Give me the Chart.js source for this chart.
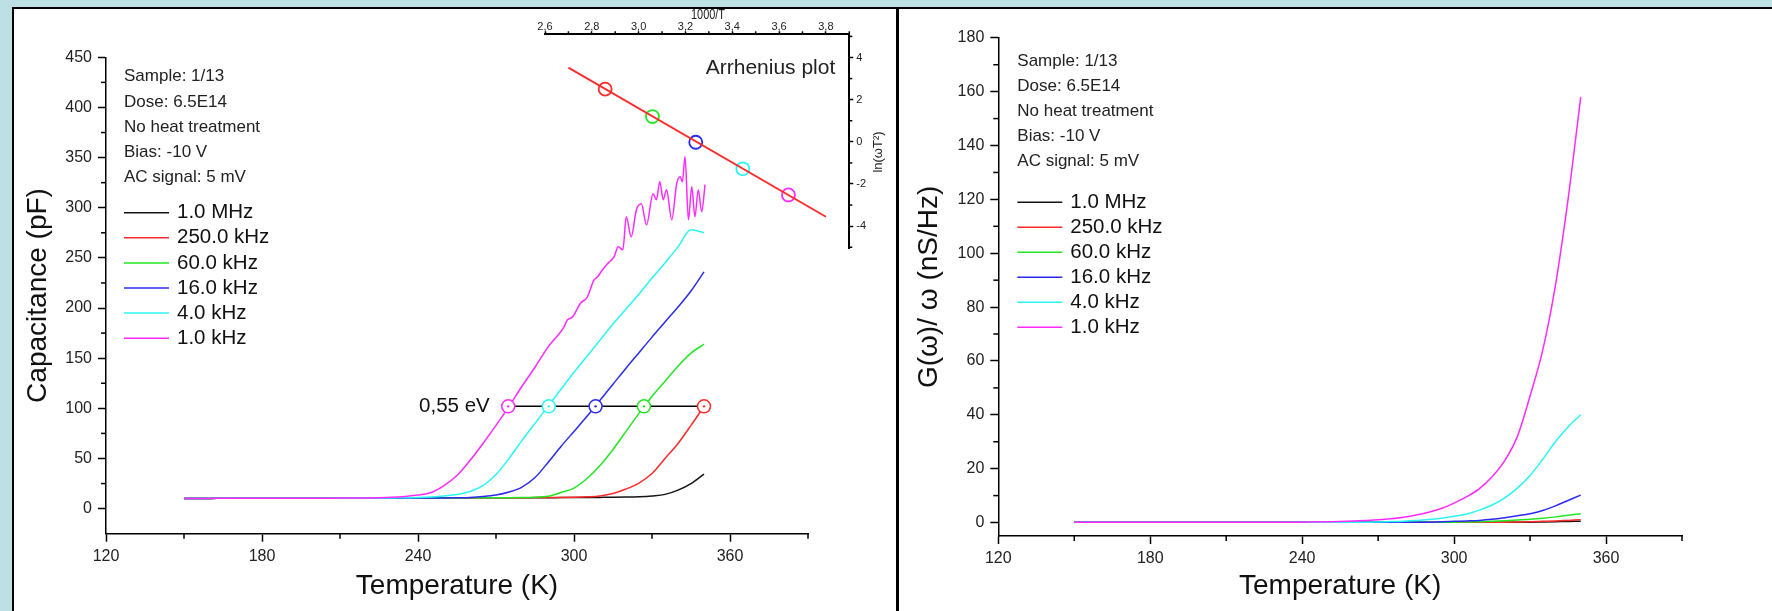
<!DOCTYPE html>
<html>
<head>
<meta charset="utf-8">
<title>Capacitance and conductance vs temperature</title>
<script src="https://cdn.jsdelivr.net/npm/chart.js@4.4.1/dist/chart.umd.min.js"></script>
<style>
  html, body { margin: 0; padding: 0; }
  body { width: 1772px; height: 611px; background: #bce0e4; position: relative; overflow: hidden; }
  #panel { position: absolute; left: 12px; top: 7px; width: 1760px; height: 604px; background: #fff;
           border-left: 2px solid #000; border-top: 2px solid #000; box-sizing: border-box; }
  #divider { position: absolute; left: 896px; top: 7px; width: 3px; height: 604px; background: #000; }
  canvas { position: absolute; }
  #capChart { left: 14px; top: 9px; }
  #condChart { left: 899px; top: 9px; }
  #arrChart { left: 505px; top: 9px; }
</style>
</head>
<body>
<div id="panel"></div>
<div id="divider"></div>
<canvas id="capChart" width="882" height="602"></canvas>
<canvas id="condChart" width="873" height="602"></canvas>
<canvas id="arrChart" width="390" height="261"></canvas>
<script>
// ---- data ----
const infoLines = ['Sample: 1/13', 'Dose: 6.5E14', 'No heat treatment', 'Bias: -10 V', 'AC signal: 5 mV'];
const freqLabels = ['1.0 MHz', '250.0 kHz', '60.0 kHz', '16.0 kHz', '4.0 kHz', '1.0 kHz'];
const freqColors = ['#141414', '#ff2a2a', '#22e622', '#2b2bf0', '#2af5f5', '#ff2aff'];

// temperature grid (K)
const tempK = [150,155,160,165,170,175,180,185,190,195,200,205,210,215,220,225,230,235,240,245,
               250,255,260,265,270,275,280,285,290,295,300,305,310,315,320,325,330,335,340,345,350];

// capacitance (pF)
const cap1MHz = [10.2,10.2,10.2,10.3,10.3,10.3,10.3,10.3,10.4,10.4,
                 10.4,10.4,10.5,10.5,10.5,10.5,10.6,10.6,10.6,10.6,
                 10.7,10.7,10.7,10.8,10.8,10.8,10.9,10.9,10.9,11.0,
                 11.0,11.1,11.2,11.3,11.5,11.9,12.7,14.2,18.5,25.0,
                 34.5];
const cap250k = [10.2,10.2,10.2,10.3,10.3,10.3,10.3,10.3,10.4,10.4,
                 10.4,10.4,10.5,10.5,10.5,10.5,10.6,10.6,10.6,10.6,
                 10.7,10.7,10.7,10.8,10.8,10.9,10.9,11.0,11.1,11.2,
                 11.4,11.8,12.6,15.0,19.5,25.5,35.0,50.0,65.0,83.0,
                 102.0];
const cap60k  = [10.2,10.2,10.2,10.3,10.3,10.3,10.3,10.3,10.4,10.4,
                 10.4,10.4,10.5,10.5,10.5,10.5,10.6,10.6,10.6,10.6,
                 10.7,10.7,10.8,10.8,10.9,10.9,11.0,11.4,12.3,16.0,
                 20.5,30.0,43.0,59.0,77.0,95.0,112.0,127.0,142.0,155.0,
                 164.0];
const cap16k  = [10.2,10.2,10.2,10.3,10.3,10.3,10.3,10.3,10.4,10.4,
                 10.4,10.4,10.5,10.5,10.5,10.5,10.6,10.6,10.6,10.6,
                 10.7,10.9,11.2,12.0,13.5,16.5,21.5,31.0,46.0,62.0,
                 77.0,92.0,108.0,124.0,140.0,155.5,171.0,186.0,201.0,217.0,
                 236.0];
const cap4k   = [10.2,10.2,10.2,10.3,10.3,10.3,10.3,10.3,10.4,10.4,
                 10.4,10.4,10.5,10.5,10.5,10.5,10.6,10.9,11.1,11.7,
                 12.6,14.0,17.0,23.0,34.0,50.0,68.0,85.0,102.0,119.0,
                 136.0,152.0,168.0,184.0,199.0,214.0,230.0,245.0,261.0,278.0,
                 275.0];
// 1 kHz curve is noisy near the top, so it has its own finer temperature list
const tempK1k = [150,155,160,165,170,175,180,185,190,195,200,205,210,215,220,225,230,235,240,245,
                 250,255,260,265,270,275,280,285,290,296.1,297.4,299.4,302.5,305.1,307.7,309,310.9,312.8,315.4,
                 317,318.8,320.1,322,324,325.9,327.9,330.4,331.7,333,334.3,335.6,337.6,339.5,
                 340.8,341.7,342.7,344,345.3,346.5,347.8,349.1,350.4];
const cap1k   = [10.2,10.2,10.2,10.3,10.3,10.3,10.3,10.3,10.4,10.4,
                 10.4,10.4,10.5,10.5,10.6,10.8,11.3,12.2,13.5,16.0,
                 23.0,33.0,48.0,65.0,83.0,102.0,122.0,141.0,161.0,181.0,188.0,191.0,204.7,211.0,228.0,231.0,238.0,244.0,251.0,
                 261,258,291,271,298,304,283,314,308,326,308,318,288,324,
                 331,326,351,288,321,291,318,296,323];

// G(w)/w (nS/Hz)
const g1MHz = [0.1,0.1,0.1,0.1,0.1,0.1,0.1,0.1,0.1,0.1,
               0.1,0.1,0.1,0.1,0.1,0.1,0.1,0.1,0.1,0.1,
               0.1,0.1,0.1,0.1,0.1,0.1,0.1,0.1,0.1,0.1,
               0.1,0.1,0.1,0.1,0.1,0.1,0.1,0.2,0.3,0.4,
               0.5];
const g250k = [0.1,0.1,0.1,0.1,0.1,0.1,0.1,0.1,0.1,0.1,
               0.1,0.1,0.1,0.1,0.1,0.1,0.1,0.1,0.1,0.1,
               0.1,0.1,0.1,0.1,0.1,0.1,0.1,0.1,0.1,0.1,
               0.1,0.1,0.1,0.1,0.1,0.2,0.3,0.45,0.6,0.8,
               1.0];
const g60k  = [0.1,0.1,0.1,0.1,0.1,0.1,0.1,0.1,0.1,0.1,
               0.1,0.1,0.1,0.1,0.1,0.1,0.1,0.1,0.1,0.1,
               0.1,0.1,0.1,0.1,0.1,0.1,0.1,0.1,0.1,0.1,
               0.1,0.2,0.3,0.45,0.65,0.9,1.2,1.6,2.1,2.7,
               3.3];
const g16k  = [0.1,0.1,0.1,0.1,0.1,0.1,0.1,0.1,0.1,0.1,
               0.1,0.1,0.1,0.1,0.1,0.1,0.1,0.1,0.1,0.1,
               0.1,0.1,0.1,0.1,0.1,0.1,0.1,0.1,0.1,0.3,
               0.45,0.6,0.8,1.2,1.8,2.5,3.3,4.5,6.2,8.2,
               10.2];
const g4k   = [0.1,0.1,0.1,0.1,0.1,0.1,0.1,0.1,0.1,0.1,
               0.1,0.1,0.1,0.1,0.1,0.1,0.1,0.1,0.1,0.1,
               0.1,0.1,0.1,0.1,0.2,0.35,0.5,0.75,1.1,1.6,
               2.3,3.2,4.6,6.5,9.2,12.8,17.5,23.5,30,35.5,
               40];
const g1k   = [0.1,0.1,0.1,0.1,0.1,0.1,0.1,0.1,0.1,0.1,
               0.1,0.1,0.1,0.1,0.1,0.1,0.1,0.1,0.1,0.2,
               0.3,0.4,0.55,0.75,1.0,1.4,2.0,2.8,3.8,5.2,
               7.2,9.6,12.6,17,23,32,47,64,88,120,
               158];

// half-height markers (0,55 eV), order: 1k, 4k, 16k, 60k, 250k
const markT = [274.7, 290.3, 308.3, 326.9, 350.0];
const markC = 102;
const markColors = ['#ff2aff', '#2af5f5', '#2b2bf0', '#22e622', '#ff2a2a'];

// Arrhenius inset, order: 250k, 60k, 16k, 4k, 1k
const arrInvT = [2.857, 3.059, 3.244, 3.445, 3.640];
const arrLn = [2.50, 1.20, -0.02, -1.28, -2.52];
const arrColors = ['#ff2a2a', '#22e622', '#2b2bf0', '#2af5f5', '#ff2aff'];
const fitInvT = [2.70, 3.80];
const fitLn = [3.52, -3.55];

// minor tick positions
const tMinor = [150, 210, 270, 330, 390];
const capMinor = [25, 75, 125, 175, 225, 275, 325, 375, 425];
const condMinor = [10, 30, 50, 70, 90, 110, 130, 150, 170];
const invTMinor = [2.7, 2.9, 3.1, 3.3, 3.5, 3.7, 3.9];
const lnMinor = [-5, -3, -1, 1, 3, 5];

// ---- helpers ----
const FONT = '"Liberation Sans", Arial, Helvetica, sans-serif';
Chart.defaults.font.family = FONT;
Chart.defaults.color = '#222';

function curve(label, temps, vals, color, order) {
  return {
    label, order,
    data: temps.map((t, i) => ({ x: t, y: vals[i] })),
    borderColor: color, borderWidth: 1.5, pointRadius: 0,
    cubicInterpolationMode: 'monotone', fill: false
  };
}

// short minor ticks, Chart.js only draws one tick length
function minorTicks(spec) {
  return {
    id: 'minorTicks',
    afterDraw(chart) {
      const ctx = chart.ctx;
      ctx.save();
      ctx.strokeStyle = '#000';
      ctx.lineWidth = 1.5;
      spec.forEach(({ axis, values, len }) => {
        const s = chart.scales[axis];
        values.forEach(v => {
          const p = s.getPixelForValue(v);
          ctx.beginPath();
          if (s.position === 'bottom') { ctx.moveTo(p, s.top); ctx.lineTo(p, s.top + len); }
          else if (s.position === 'top') { ctx.moveTo(p, s.bottom); ctx.lineTo(p, s.bottom - len); }
          else if (s.position === 'left') { ctx.moveTo(s.right, p); ctx.lineTo(s.right - len, p); }
          else { ctx.moveTo(s.left, p); ctx.lineTo(s.left + len, p); }
          ctx.stroke();
        });
      });
      ctx.restore();
    }
  };
}

// sample info + legend block inside the plot
function panelText(pos) {
  return {
    id: 'panelText',
    afterDraw(chart) {
      const ctx = chart.ctx;
      ctx.save();
      ctx.textAlign = 'left';
      ctx.textBaseline = 'middle';
      ctx.fillStyle = '#222';
      ctx.font = '17px ' + FONT;
      infoLines.forEach((t, i) => ctx.fillText(t, pos.x, pos.y + i * pos.step));
      ctx.font = '20.5px ' + FONT;
      ctx.lineWidth = 1.5;
      chart.data.datasets.filter(d => d.label).forEach((d, i) => {
        const y = pos.legendY + i * pos.legendStep;
        ctx.strokeStyle = d.borderColor;
        ctx.beginPath();
        ctx.moveTo(pos.x, y);
        ctx.lineTo(pos.x + 45, y);
        ctx.stroke();
        ctx.fillStyle = '#111';
        ctx.fillText(d.label, pos.x + 53, y);
      });
      ctx.restore();
    }
  };
}

const eVLabel = {
  id: 'eVLabel',
  afterDraw(chart) {
    const { ctx, scales } = chart;
    ctx.save();
    ctx.font = '20.5px ' + FONT;
    ctx.fillStyle = '#111';
    ctx.textAlign = 'right';
    ctx.textBaseline = 'middle';
    ctx.fillText('0,55 eV', scales.x.getPixelForValue(markT[0]) - 18.5, scales.y.getPixelForValue(markC));
    ctx.restore();
  }
};

const insetText = {
  id: 'insetText',
  afterDraw(chart) {
    const ctx = chart.ctx;
    const a = chart.chartArea;
    ctx.save();
    ctx.fillStyle = '#222';
    ctx.textBaseline = 'middle';
    ctx.textAlign = 'right';
    ctx.font = '21px ' + FONT;
    ctx.fillText('Arrhenius plot', a.right - 14, a.top + 34);
    // axis titles (narrow, and the right one reads bottom-to-top)
    ctx.textAlign = 'center';
    ctx.save();
    ctx.translate(203, 6.5);
    ctx.scale(0.78, 1);
    ctx.font = '14px ' + FONT;
    ctx.fillText('1000/T', 0, 0);
    ctx.restore();
    ctx.save();
    ctx.translate(373, 143);
    ctx.rotate(-Math.PI / 2);
    ctx.font = '13px ' + FONT;
    ctx.fillText('ln(\u03C9T\u00B2)', 0, 0);
    ctx.restore();
    ctx.restore();
  }
};

function xAxis(height, titlePad) {
  return {
    type: 'linear', position: 'bottom', min: 120, max: 390,
    afterFit: s => { s.height = height; },
    border: { display: true, color: '#000', width: 1.5 },
    grid: { display: true, drawOnChartArea: false, drawTicks: true, tickLength: 8, tickColor: '#000', tickWidth: 1.5 },
    ticks: { stepSize: 60, includeBounds: false, autoSkip: false, maxRotation: 0, padding: 5, color: '#222', font: { size: 16 } },
    title: { display: true, text: 'Temperature (K)', color: '#111', font: { size: 28 }, padding: { top: 0, bottom: titlePad } }
  };
}

function yAxis(width, min, max, step, text, titlePad) {
  return {
    type: 'linear', position: 'left', min, max,
    afterFit: s => { s.width = width; },
    border: { display: true, color: '#000', width: 1.5 },
    grid: { display: true, drawOnChartArea: false, drawTicks: true, tickLength: 8, tickColor: '#000', tickWidth: 1.5 },
    ticks: { stepSize: step, includeBounds: false, autoSkip: false, padding: 6, color: '#222', font: { size: 16 } },
    title: { display: true, text, color: '#111', font: { size: 28 }, padding: { top: titlePad, bottom: 0 } }
  };
}

const baseOptions = {
  responsive: false, animation: false, devicePixelRatio: 1, events: [],
  plugins: { legend: { display: false }, tooltip: { enabled: false } }
};

// ---- left: capacitance ----
new Chart(document.getElementById('capChart'), {
  type: 'line',
  data: {
    datasets: [
      curve(freqLabels[0], tempK, cap1MHz, freqColors[0], 5),
      curve(freqLabels[1], tempK, cap250k, freqColors[1], 4),
      curve(freqLabels[2], tempK, cap60k, freqColors[2], 3),
      curve(freqLabels[3], tempK, cap16k, freqColors[3], 2),
      curve(freqLabels[4], tempK, cap4k, freqColors[4], 1),
      curve(freqLabels[5], tempK1k, cap1k, freqColors[5], 0),
      {
        order: -1, data: markT.map(t => ({ x: t, y: markC })),
        borderColor: '#000', borderWidth: 1.5,
        pointRadius: 6.5, pointBorderWidth: 1.5, pointBorderColor: markColors, pointBackgroundColor: '#fff'
      },
      {
        order: -2, data: markT.map(t => ({ x: t, y: markC })), showLine: false,
        pointRadius: 1.2, pointBorderWidth: 0, pointBackgroundColor: markColors
      }
    ]
  },
  options: {
    ...baseOptions,
    layout: { padding: { left: 0, top: 48.3, right: 88, bottom: 0 } },
    scales: {
      x: xAxis(77.3, 7.9),
      y: yAxis(92, -25, 450, 50, 'Capacitance (pF)', 7.5)
    }
  },
  plugins: [
    minorTicks([{ axis: 'x', values: tMinor, len: 5 }, { axis: 'y', values: capMinor, len: 5 }]),
    panelText({ x: 110, y: 67.7, step: 25.15, legendY: 203.7, legendStep: 25.1 }),
    eVLabel
  ]
});

// ---- right: G/w ----
new Chart(document.getElementById('condChart'), {
  type: 'line',
  data: {
    datasets: [
      curve(freqLabels[0], tempK, g1MHz, freqColors[0], 5),
      curve(freqLabels[1], tempK, g250k, freqColors[1], 4),
      curve(freqLabels[2], tempK, g60k, freqColors[2], 3),
      curve(freqLabels[3], tempK, g16k, freqColors[3], 2),
      curve(freqLabels[4], tempK, g4k, freqColors[4], 1),
      curve(freqLabels[5], tempK, g1k, freqColors[5], 0)
    ]
  },
  options: {
    ...baseOptions,
    layout: { padding: { left: 0, top: 28.8, right: 90, bottom: 0 } },
    scales: {
      x: xAxis(75, 7.9),
      y: yAxis(99.3, -5, 180, 20, 'G(\u03C9)/ \u03C9 (nS/Hz)', 13.5)
    }
  },
  plugins: [
    minorTicks([{ axis: 'x', values: tMinor, len: 5 }, { axis: 'y', values: condMinor, len: 5 }]),
    panelText({ x: 118.3, y: 52.7, step: 25, legendY: 193.3, legendStep: 25 })
  ]
});

// ---- inset: Arrhenius plot ----
new Chart(document.getElementById('arrChart'), {
  type: 'line',
  data: {
    datasets: [
      {
        data: fitInvT.map((v, i) => ({ x: v, y: fitLn[i] })),
        borderColor: '#ff2a2a', borderWidth: 1.8, pointRadius: 0
      },
      {
        data: arrInvT.map((v, i) => ({ x: v, y: arrLn[i] })), showLine: false,
        pointRadius: 6.5, pointBorderWidth: 1.8, pointBorderColor: arrColors, pointBackgroundColor: 'rgba(0,0,0,0)'
      }
    ]
  },
  options: {
    ...baseOptions,
    layout: { padding: { left: 40, top: 0, right: 0, bottom: 21.7 } },
    scales: {
      x: {
        type: 'linear', position: 'top', min: 2.6, max: 3.9,
        afterFit: s => { s.height = 25.3; },
        border: { display: true, color: '#000', width: 2 },
        grid: { display: true, drawOnChartArea: false, tickLength: 3, tickColor: '#000', tickWidth: 1.5 },
        ticks: { stepSize: 0.2, includeBounds: false, autoSkip: false, maxRotation: 0, padding: -2.2, color: '#222',
                 font: { size: 11 }, callback: v => v.toFixed(1).replace('.', ',') }
      },
      y: {
        type: 'linear', position: 'right', min: -5.05, max: 5.1,
        afterFit: s => { s.width = 45.7; },
        border: { display: true, color: '#000', width: 2 },
        grid: { display: true, drawOnChartArea: false, tickLength: 4, tickColor: '#000', tickWidth: 1.5 },
        ticks: { stepSize: 2, includeBounds: false, autoSkip: false, padding: 3, color: '#222',
                 font: { size: 11 }, callback: v => String(v) }
      }
    }
  },
  plugins: [
    minorTicks([{ axis: 'x', values: invTMinor, len: 3 }, { axis: 'y', values: lnMinor, len: 3 }]),
    insetText
  ]
});
</script>
</body>
</html>
